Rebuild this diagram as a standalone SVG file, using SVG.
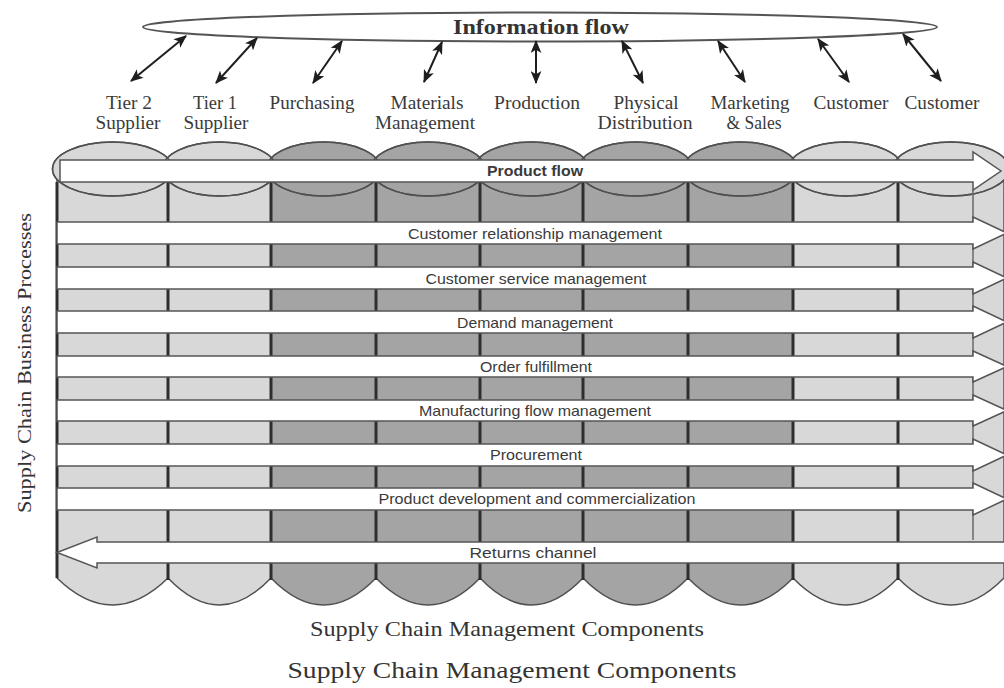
<svg xmlns="http://www.w3.org/2000/svg" width="1004" height="688" viewBox="0 0 1004 688">
  <style>
    .light { fill: #d8d8d8; stroke: #505050; stroke-width: 1.5; }
    .dark { fill: #a4a4a4; stroke: #505050; stroke-width: 1.5; }
    .cap { fill: none; stroke: #505050; stroke-width: 1.5; }
    .divider { stroke: #2e2e2e; stroke-width: 3; }
    .band { fill: #ffffff; stroke: #555555; stroke-width: 1.5; stroke-linejoin: miter; }
    .band-label { font-family: "Liberation Sans", Arial, sans-serif; font-size: 15px; fill: #3a3a3a; text-anchor: middle; }
    .comp-label { font-family: "Liberation Serif", "Times New Roman", serif; font-size: 18px; fill: #3a3a3a; text-anchor: middle; }
    .title { font-family: "Liberation Serif", "Times New Roman", serif; fill: #333333; text-anchor: middle; }
    .info-arrow { stroke: #1e1e1e; stroke-width: 2; fill: none; marker-start: url(#head); marker-end: url(#head); }
  </style>
  <defs>
    <marker id="head" viewBox="0 0 12 10" refX="11" refY="5" markerWidth="13" markerHeight="11" markerUnits="userSpaceOnUse" orient="auto-start-reverse">
      <path d="M0,0 L12,5 L0,10 L3,5 Z" fill="#1e1e1e"/>
    </marker>
  </defs>

  <rect x="0" y="0" width="1004" height="688" fill="#ffffff"/>

  <!-- Supply chain components drawn as cylinders -->
  <g id="columns">
    <g id="col-tier2-supplier">
      <path class="light" d="M57,169 V578 Q112.5,632 168,578 V169 Z"/>
      <ellipse class="light" cx="112.5" cy="169" rx="60" ry="27"/>
    </g>
    <g id="col-tier1-supplier">
      <path class="light" d="M168,169 V578 Q219.5,632 271,578 V169 Z"/>
      <ellipse class="light" cx="219.5" cy="169" rx="57" ry="27"/>
    </g>
    <g id="col-purchasing">
      <path class="dark" d="M271,169 V578 Q323.5,632 376,578 V169 Z"/>
      <ellipse class="dark" cx="323.5" cy="169" rx="57" ry="27"/>
    </g>
    <g id="col-materials-management">
      <path class="dark" d="M376,169 V578 Q428,632 480,578 V169 Z"/>
      <ellipse class="dark" cx="428" cy="169" rx="57" ry="27"/>
    </g>
    <g id="col-production">
      <path class="dark" d="M480,169 V578 Q531.5,632 583,578 V169 Z"/>
      <ellipse class="dark" cx="531.5" cy="169" rx="57" ry="27"/>
    </g>
    <g id="col-physical-distribution">
      <path class="dark" d="M583,169 V578 Q635.5,632 688,578 V169 Z"/>
      <ellipse class="dark" cx="635.5" cy="169" rx="57" ry="27"/>
    </g>
    <g id="col-marketing-sales">
      <path class="dark" d="M688,169 V578 Q740.5,632 793,578 V169 Z"/>
      <ellipse class="dark" cx="740.5" cy="169" rx="57" ry="27"/>
    </g>
    <g id="col-customer-1">
      <path class="light" d="M793,169 V578 Q845.5,632 898,578 V169 Z"/>
      <ellipse class="light" cx="845.5" cy="169" rx="57" ry="27"/>
    </g>
    <g id="col-customer-2">
      <path class="light" d="M898,169 V578 Q951,632 1004,578 V169 Z"/>
      <ellipse class="light" cx="951" cy="169" rx="58" ry="27"/>
    </g>
    <!-- re-stroke the cylinder tops so every arc stays visible -->
    <g id="column-caps">
      <ellipse class="cap" cx="112.5" cy="169" rx="60" ry="27"/>
      <ellipse class="cap" cx="219.5" cy="169" rx="57" ry="27"/>
      <ellipse class="cap" cx="323.5" cy="169" rx="57" ry="27"/>
      <ellipse class="cap" cx="428" cy="169" rx="57" ry="27"/>
      <ellipse class="cap" cx="531.5" cy="169" rx="57" ry="27"/>
      <ellipse class="cap" cx="635.5" cy="169" rx="57" ry="27"/>
      <ellipse class="cap" cx="740.5" cy="169" rx="57" ry="27"/>
      <ellipse class="cap" cx="845.5" cy="169" rx="57" ry="27"/>
      <ellipse class="cap" cx="951" cy="169" rx="58" ry="27"/>
    </g>
    <!-- column dividers and outer edge -->
    <g id="dividers">
      <line class="divider" x1="57" y1="182" x2="57" y2="578" stroke-width="2.5"/>
      <line class="divider" x1="168" y1="182" x2="168" y2="580"/>
      <line class="divider" x1="271" y1="182" x2="271" y2="580"/>
      <line class="divider" x1="376" y1="182" x2="376" y2="580"/>
      <line class="divider" x1="480" y1="182" x2="480" y2="580"/>
      <line class="divider" x1="583" y1="182" x2="583" y2="580"/>
      <line class="divider" x1="688" y1="182" x2="688" y2="580"/>
      <line class="divider" x1="793" y1="182" x2="793" y2="580"/>
      <line class="divider" x1="898" y1="182" x2="898" y2="580"/>
      <line x1="973" y1="190" x2="973" y2="540" stroke="#6a6a6a" stroke-width="1.5"/>
    </g>
  </g>

  <!-- Business process bands -->
  <g id="process-bands">
    <g id="band-product-flow">
      <path class="band" d="M60,160 H973 V152 L1001,171 L973,190 V182 H60 Z"/>
      <text class="band-label" x="535" y="176" font-weight="bold" textLength="96" lengthAdjust="spacingAndGlyphs">Product flow</text>
    </g>
    <g id="band-crm">
      <path class="band" d="M57,222 H973 V217 L1007,233 L973,249 V244 H57 Z"/>
      <text class="band-label" x="535" y="239" textLength="254" lengthAdjust="spacingAndGlyphs">Customer relationship management</text>
    </g>
    <g id="band-csm">
      <path class="band" d="M57,267 H973 V262 L1007,278 L973,294 V289 H57 Z"/>
      <text class="band-label" x="536" y="284" textLength="221" lengthAdjust="spacingAndGlyphs">Customer service management</text>
    </g>
    <g id="band-demand">
      <path class="band" d="M57,311 H973 V306 L1007,322 L973,338 V333 H57 Z"/>
      <text class="band-label" x="535" y="328" textLength="156" lengthAdjust="spacingAndGlyphs">Demand management</text>
    </g>
    <g id="band-order">
      <path class="band" d="M57,356 H973 V351 L1007,366.5 L973,382 V377 H57 Z"/>
      <text class="band-label" x="536" y="372" textLength="112" lengthAdjust="spacingAndGlyphs">Order fulfillment</text>
    </g>
    <g id="band-manufacturing">
      <path class="band" d="M57,400 H973 V395 L1007,410.5 L973,426 V421 H57 Z"/>
      <text class="band-label" x="535" y="416" textLength="232" lengthAdjust="spacingAndGlyphs">Manufacturing flow management</text>
    </g>
    <g id="band-procurement">
      <path class="band" d="M57,444 H973 V439 L1007,455 L973,471 V466 H57 Z"/>
      <text class="band-label" x="536" y="460" textLength="92" lengthAdjust="spacingAndGlyphs">Procurement</text>
    </g>
    <g id="band-product-development">
      <path class="band" d="M57,488 H973 V483 L1007,499 L973,515 V510 H57 Z"/>
      <text class="band-label" x="537" y="504" textLength="317" lengthAdjust="spacingAndGlyphs">Product development and commercialization</text>
    </g>
    <g id="band-returns">
      <path class="band" d="M1006,542 H97 V537 L57,552.5 L97,568 V563 H1006 Z"/>
      <text class="band-label" x="533" y="558" textLength="127" lengthAdjust="spacingAndGlyphs">Returns channel</text>
    </g>
  </g>

  <!-- Information flow -->
  <g id="information-flow">
    <ellipse cx="540" cy="27" rx="397" ry="14.5" fill="#ffffff" stroke="#555555" stroke-width="2"/>
    <text class="title" x="541" y="34" font-size="22" font-weight="bold" fill="#222222" textLength="176" lengthAdjust="spacingAndGlyphs">Information flow</text>
  </g>

  <!-- Component labels -->
  <g id="component-labels">
    <g id="label-tier2">
      <text class="comp-label" x="129" y="109" textLength="46" lengthAdjust="spacingAndGlyphs">Tier 2</text>
      <text class="comp-label" x="128" y="129" textLength="65" lengthAdjust="spacingAndGlyphs">Supplier</text>
    </g>
    <g id="label-tier1">
      <text class="comp-label" x="215" y="109" textLength="44" lengthAdjust="spacingAndGlyphs">Tier 1</text>
      <text class="comp-label" x="216" y="129" textLength="65" lengthAdjust="spacingAndGlyphs">Supplier</text>
    </g>
    <g id="label-purchasing">
      <text class="comp-label" x="312" y="109" textLength="85" lengthAdjust="spacingAndGlyphs">Purchasing</text>
    </g>
    <g id="label-materials">
      <text class="comp-label" x="427" y="109" textLength="73" lengthAdjust="spacingAndGlyphs">Materials</text>
      <text class="comp-label" x="425" y="129" textLength="100" lengthAdjust="spacingAndGlyphs">Management</text>
    </g>
    <g id="label-production">
      <text class="comp-label" x="537" y="109" textLength="86" lengthAdjust="spacingAndGlyphs">Production</text>
    </g>
    <g id="label-distribution">
      <text class="comp-label" x="646" y="109" textLength="65" lengthAdjust="spacingAndGlyphs">Physical</text>
      <text class="comp-label" x="645" y="129" textLength="95" lengthAdjust="spacingAndGlyphs">Distribution</text>
    </g>
    <g id="label-marketing">
      <text class="comp-label" x="750" y="109" textLength="79" lengthAdjust="spacingAndGlyphs">Marketing</text>
      <text class="comp-label" x="754" y="129" textLength="55" lengthAdjust="spacingAndGlyphs">&amp; Sales</text>
    </g>
    <g id="label-customer-1">
      <text class="comp-label" x="851" y="109" textLength="75" lengthAdjust="spacingAndGlyphs">Customer</text>
    </g>
    <g id="label-customer-2">
      <text class="comp-label" x="942" y="109" textLength="75" lengthAdjust="spacingAndGlyphs">Customer</text>
    </g>
  </g>

  <!-- Two-way links between the information flow and each component -->
  <g id="connectors">
    <line class="info-arrow" x1="131" y1="81" x2="186" y2="36"/>
    <line class="info-arrow" x1="216" y1="83" x2="257" y2="38"/>
    <line class="info-arrow" x1="313" y1="83" x2="342" y2="41"/>
    <line class="info-arrow" x1="424" y1="82" x2="442" y2="42"/>
    <line class="info-arrow" x1="536" y1="83" x2="536" y2="41"/>
    <line class="info-arrow" x1="643" y1="83" x2="622" y2="41"/>
    <line class="info-arrow" x1="745" y1="82" x2="718" y2="41"/>
    <line class="info-arrow" x1="849" y1="82" x2="818" y2="39"/>
    <line class="info-arrow" x1="941" y1="81" x2="903" y2="34"/>
  </g>

  <!-- Axis captions -->
  <g id="captions">
    <text class="title" transform="translate(31,363) rotate(-90)" font-size="19" textLength="300" lengthAdjust="spacingAndGlyphs">Supply Chain Business Processes</text>
    <text class="title" x="507" y="636" font-size="21" textLength="394" lengthAdjust="spacingAndGlyphs">Supply Chain Management Components</text>
    <text class="title" x="512" y="678" font-size="24" textLength="449" lengthAdjust="spacingAndGlyphs">Supply Chain Management Components</text>
  </g>
</svg>
